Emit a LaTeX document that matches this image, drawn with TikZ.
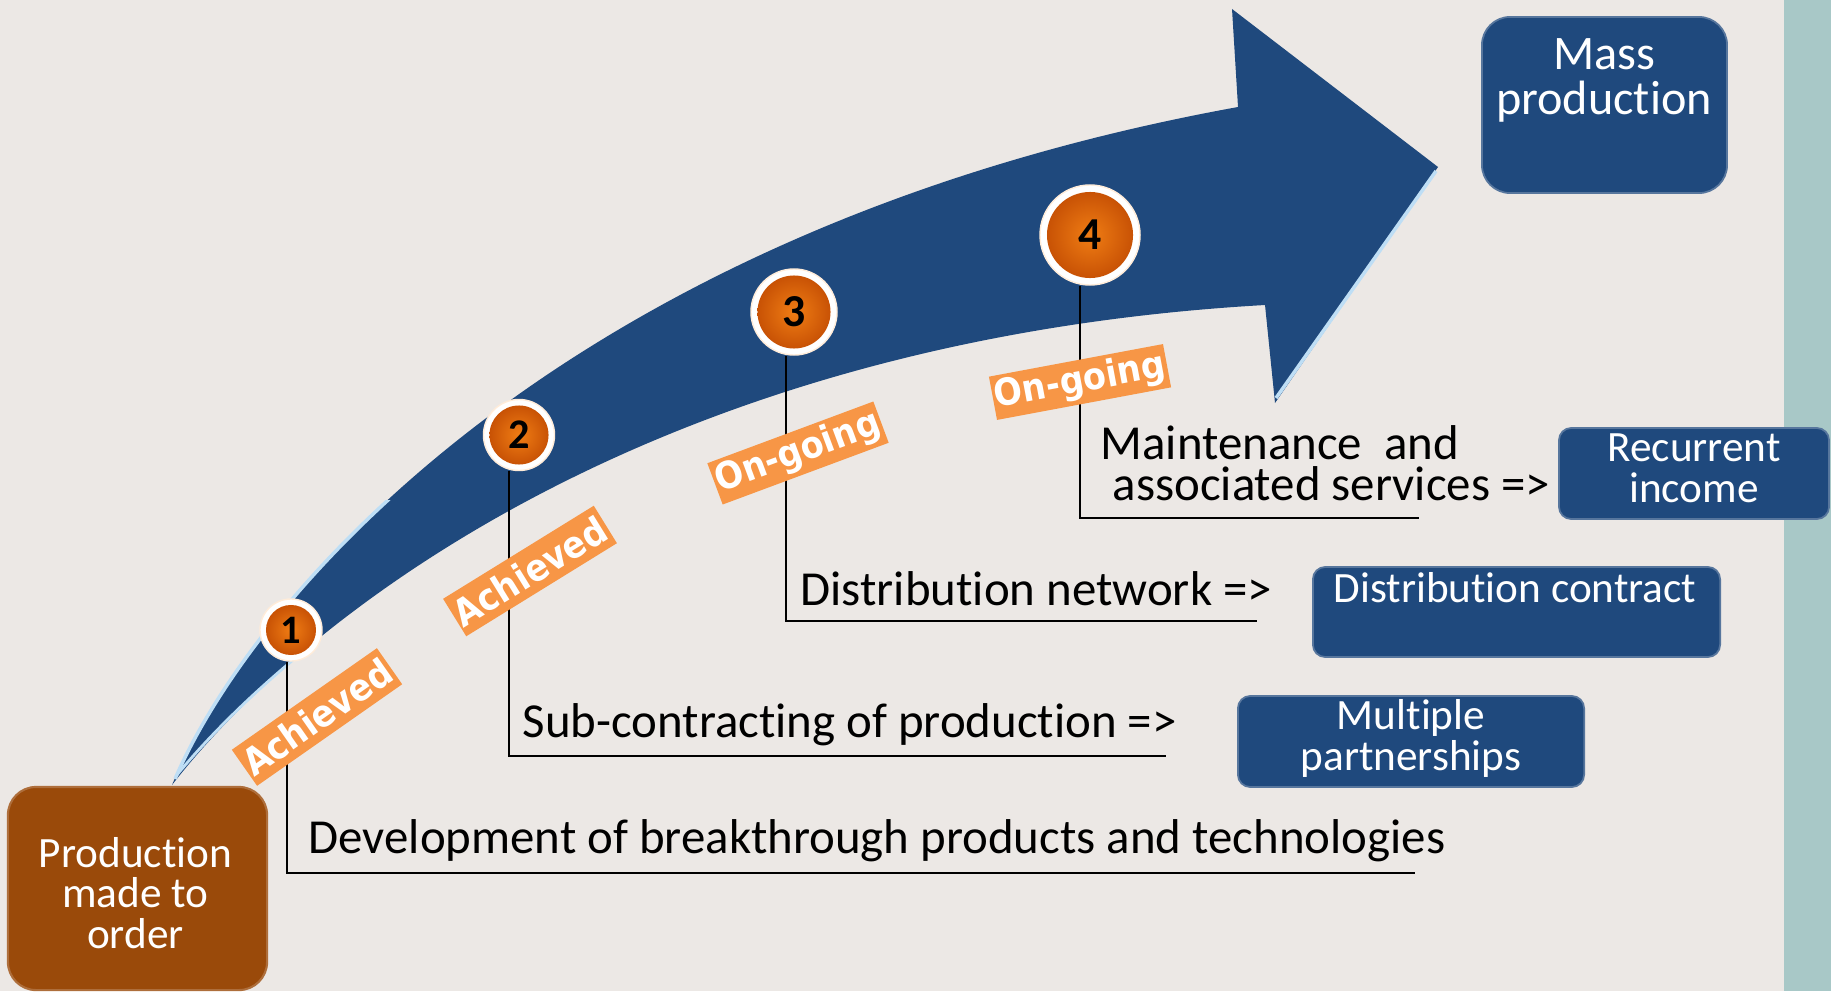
\documentclass[tikz,border=0pt]{standalone}
\usepackage{fontspec}
\setmainfont{Carlito}[Ligatures={NoCommon}]
\newfontfamily\tagfont[FakeStretch=0.9]{DejaVu Sans}
\usetikzlibrary{calc}
\definecolor{bgcol}{RGB}{236,232,229}
\definecolor{stripcol}{RGB}{168,200,199}
\definecolor{navy}{RGB}{31,73,125}
\definecolor{prodbrown}{RGB}{154,74,10}
\definecolor{tagorange}{RGB}{247,150,70}
\definecolor{hilite}{RGB}{190,222,245}
\definecolor{ballin}{RGB}{240,125,20}
\definecolor{ballout}{RGB}{200,82,5}
\begin{document}
\begin{tikzpicture}[x=0.01cm,y=-0.01cm,
  bluebox/.style={rectangle, rounded corners=3.5pt, fill=navy, draw=navy!75!white, line width=0.5pt, inner sep=0},
  bigbox/.style={rounded corners=8pt},
  ring/.style={circle, fill=white, draw=white!85!orange, line width=0.4pt, inner sep=0},
  ball/.style={circle, shading=radial, inner color=ballin, outer color=ballout, inner sep=0, text=black},
  tagbox/.style={rectangle, fill=tagorange, text=white, font=\tagfont\bfseries\fontsize{10.6}{11}\selectfont, minimum width=1.77cm, minimum height=0.44cm, inner sep=0},
  leader/.style={draw=black, line width=0.75pt},
  maintext/.style={inner sep=0, text=black, font=\fontsize{13.9}{11.4}\selectfont},
  boxtext/.style={inner sep=0, text=white, align=center, anchor=base, font=\fontsize{12.3}{11.5}\selectfont}
]
\useasboundingbox (0,0) rectangle (1831,991);
\fill[bgcol] (0,0) rectangle (1831,991);
\fill[stripcol] (1784,0) rectangle (1831,991);

% big curved arrow
\fill[navy] (172,785) .. controls (250,600) and (560,230) .. (1238,107)
  -- (1232,9) -- (1438,167) -- (1275,403) -- (1265,305)
  .. controls (650,340) and (300,620) .. (172,785) -- cycle;
\draw[hilite, line width=1pt] (1436,171) -- (1276,398);
\begin{scope}
  \clip (150,500) rectangle (430,800);
  \draw[hilite, line width=1pt] (175,779) .. controls (253,598) and (563,229) .. (1238,111);
\end{scope}
\begin{scope}
  \clip (150,600) rectangle (320,800);
  \draw[hilite, line width=0.8pt] (176,776) .. controls (300,625) and (650,345) .. (1265,309);
\end{scope}

% numbered circles
\node[ring, minimum size=0.62cm] (c1) at (291,630) {};
\node[ball, minimum size=0.50cm, font=\bfseries\fontsize{11.5}{12}\selectfont] (n1) at (c1) {1};
\node[ring, minimum size=0.71cm] (c2) at (519,435) {};
\node[ball, minimum size=0.59cm, font=\bfseries\fontsize{12}{12}\selectfont] (n2) at (c2) {2};
\node[ring, minimum size=0.86cm] (c3) at (794,312) {};
\node[ball, minimum size=0.73cm, font=\bfseries\fontsize{13}{13}\selectfont] (n3) at (c3) {3};
\node[ring, minimum size=1.00cm] (c4) at (1090,235) {};
\node[ball, minimum size=0.86cm, font=\bfseries\fontsize{13}{13}\selectfont] (n4) at (c4) {4};

% leader lines
\coordinate (e1) at (1415,873);
\coordinate (e2) at (1166,756);
\coordinate (e3) at (1257,621);
\coordinate (e4) at (1419,518);
\draw[leader] ([xshift=-0.04cm]c1.south) |- (e1);
\draw[leader] ([xshift=-0.10cm]c2.south) |- (e2);
\draw[leader] ([xshift=-0.08cm]c3.south) |- (e3);
\draw[leader] ([xshift=-0.10cm]c4.south) |- (e4);

% status tags
\node[tagbox, rotate=35] (t1) at (317,717) {Achieved};
\node[tagbox, rotate=31.7] (t2) at (530,571) {Achieved};
\node[tagbox, rotate=20.4] (t3) at (798,453) {On-going};
\node[tagbox, rotate=10.6] (t4) at (1080,382) {On-going};

% boxes
\node[bluebox, bigbox, minimum width=2.45cm, minimum height=1.76cm] (mass) at (1604.5,105) {};
\node[bluebox, minimum width=2.70cm, minimum height=0.91cm] (recur) at (1694,473.5) {};
\node[bluebox, minimum width=4.07cm, minimum height=0.90cm] (dcon) at (1516.5,612) {};
\node[bluebox, minimum width=3.46cm, minimum height=0.91cm] (multi) at (1411,741.5) {};
\node[rectangle, rounded corners=8pt, fill=prodbrown, draw=prodbrown!80!white, line width=0.6pt, minimum width=2.59cm, minimum height=2.03cm, inner sep=0] (prod) at (137.5,888.5) {};

% box texts (anchor base = last line's baseline)
\node[boxtext, font=\fontsize{13.7}{12.8}\selectfont] (massT) at (1604,115) {Mass\\production};
\node[boxtext] (recurT) at (1694,502) {Recurrent\\income};
\node[boxtext] (dconT) at (1515,602) {Distribution contract};
\node[boxtext] (multiT) at (1411,770) {Multiple\\partnerships};
\node[boxtext] (prodT) at (135.5,948) {Production\\made to\\order};

% step texts
\node[maintext, anchor=base west] (s1) at (308,853) {Development of breakthrough products and technologies};
\node[maintext, anchor=base west] (s2) at (522,737) {Sub-contracting of production =>};
\node[maintext, anchor=base west] (s3) at (800,605) {Distribution network =>};
\node[maintext, anchor=base west, align=left] (s4) at (1100,500) {Maintenance~ and\\\hspace*{0.12cm}associated services =>};
\end{tikzpicture}
\end{document}
